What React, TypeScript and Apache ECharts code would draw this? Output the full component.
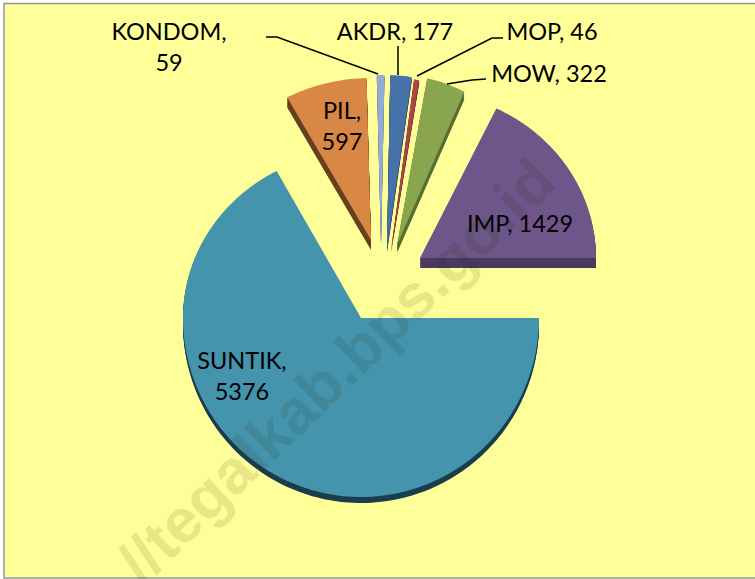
import React, { useEffect, useRef } from "react";
import * as echarts from "echarts";

const categories = ["AKDR", "MOP", "MOW", "IMP", "SUNTIK", "PIL", "KONDOM"];
const seriesValues = [177, 46, 322, 1429, 5376, 597, 59];
const firstSliceAngle = 1.2;

const faceColors = ["#4672A8", "#AA4643", "#89A54E", "#6E568A", "#4594AD", "#D98745", "#93ACD4"];
const sideColors = ["#2C4A70", "#6E2C2A", "#5A6E32", "#4B3A60", "#1B3E4E", "#66401F", "#5F7290"];

// Each exploded slice's own placement: apex x, apex y, rx, ry above, ry below, depth
const placement = [
  [387, 248, 155, 173, 173, 4],
  [391, 250, 145, 173, 173, 3],
  [397, 245, 155, 170, 170, 8],
  [420, 258, 176, 166, 166, 10],
  [361, 318, 178, 167, 179, 6],
  [371, 240, 177, 162, 162, 10],
  [381, 242, 165, 167, 167, 3],
];

const labelFont = "Lato, Carlito, 'Open Sans', sans-serif";
const labelSize = 23.5;
// Label layout: anchor centre x, first line centre y, whether name and value break
const labelPlacement = [
  [395, 31, false],
  [552, 31, false],
  [549, 73, false],
  [520, 223, false],
  [242, 360, true],
  [342, 110, true],
  [169, 31, true],
];
const leaderLines: (number[][] | null)[] = [
  [[398, 46], [398, 75]],
  [[503, 38], [492, 38], [417, 76]],
  [[486, 79], [472, 80], [447, 84]],
  null,
  null,
  null,
  [[266, 37], [277, 37], [378, 74]],
];

function slicePoints(p: number[], a0: number, a1: number, shift: number) {
  const [cx, cy, rx, ryT, ryB] = p;
  const pts: number[][] = [[cx, cy + shift]];
  const steps = Math.max(2, Math.ceil((a1 - a0) / 1.5));
  for (let i = 0; i <= steps; i++) {
    const t = ((a0 + ((a1 - a0) * i) / steps) * Math.PI) / 180;
    const c = Math.cos(t);
    pts.push([cx + rx * Math.sin(t), cy - (c > 0 ? ryT : ryB) * c + shift]);
  }
  return pts;
}

export default function App() {
  const ref = useRef<HTMLDivElement>(null);
  useEffect(() => {
    document.body.style.margin = "0";
    const chart = echarts.init(ref.current!, null, { renderer: "svg" });
    const total = seriesValues.reduce((a, b) => a + b, 0);
    const renderItem = (params: any, api: any) => {
      const i = params.dataIndex;
      const before = seriesValues.slice(0, i).reduce((a, b) => a + b, 0);
      const a0 = firstSliceAngle + (before / total) * 360;
      const a1 = a0 + (api.value(1) / total) * 360;
      const p = placement[i];
      const children: any[] = [];
      for (let d = p[5]; d > 0; d--) {
        children.push({
          type: "polygon",
          shape: { points: slicePoints(p, a0, a1, d) },
          style: { fill: sideColors[i] },
          silent: true,
        });
      }
      children.push({
        type: "polygon",
        shape: { points: slicePoints(p, a0, a1, 0) },
        style: { fill: faceColors[i] },
      });
      return { type: "group", children };
    };
    const labelItem = (params: any, api: any) => {
      const i = params.dataIndex;
      const [x, y, brk] = labelPlacement[i] as [number, number, boolean];
      const name = categories[i];
      const value = api.value(1);
      const children: any[] = [];
      const line = leaderLines[i];
      if (line) {
        children.push({
          type: "polyline",
          shape: { points: line },
          style: { stroke: "#000", lineWidth: 1.5, fill: "none" },
        });
      }
      children.push({
        type: "text",
        x,
        y: brk ? y + 15.5 : y,
        style: {
          text: brk ? `${name},\n${value}` : `${name}, ${value}`,
          font: `${labelSize}px ${labelFont}`,
          lineHeight: 31,
          fill: "#000",
          align: "center",
          verticalAlign: "middle",
        },
      });
      return { type: "group", children };
    };
    const seriesData = categories.map((name, i) => ({ name, value: [i, seriesValues[i]] }));
    chart.setOption({
      animation: false,
      backgroundColor: "#fff",
      graphic: [
        {
          type: "rect",
          z: -10,
          shape: { x: 4, y: 3.5, width: 752, height: 574.5 },
          style: { fill: "#FFFF99", stroke: "#969696", lineWidth: 1.5 },
        },
        {
          type: "text",
          z: 100,
          silent: true,
          x: 336,
          y: 371,
          rotation: (44 * Math.PI) / 180,
          style: {
            text: "//tegalkab.bps.go.id",
            font: "bold 62px 'Liberation Sans', Arial, sans-serif",
            fill: "rgba(40,40,0,0.11)",
            align: "center",
            verticalAlign: "middle",
          },
        },
      ],
      series: [
        {
          type: "custom",
          coordinateSystem: "none",
          name: "Slices",
          renderItem,
          data: seriesData,
          z: 2,
        },
        {
          type: "custom",
          coordinateSystem: "none",
          name: "Labels",
          renderItem: labelItem,
          data: seriesData,
          z: 3,
        },
      ],
    });
    return () => chart.dispose();
  }, []);
  return <div ref={ref} style={{ width: 755, height: 579 }} />;
}
